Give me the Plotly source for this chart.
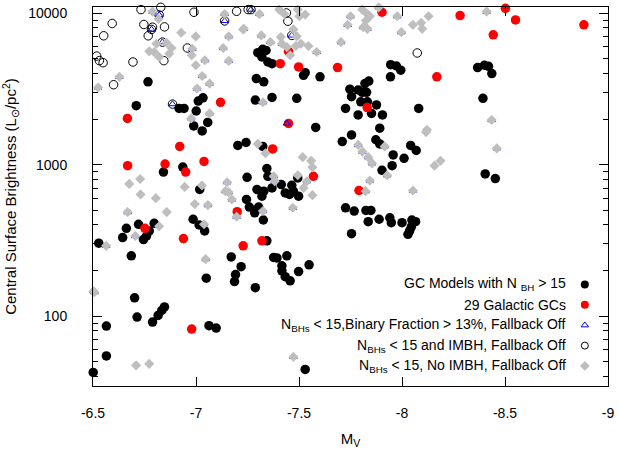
import plotly.graph_objects as go

# ---------------- data (M_V, central surface brightness in Lsun/pc^2) ----------------
bh_mv = [-6.767, -6.710, -6.918, -6.942, -7.011, -7.034, -7.001, -7.057, -6.989, -7.030, -7.300, -7.293, -7.288,
         -7.203, -7.243, -6.936, -6.842, -7.018, -7.248, -7.296, -7.245, -7.259, -7.285, -6.986, -7.015, -7.042,
         -6.721, -6.662, -6.644, -6.797, -6.773, -6.760, -6.745, -6.528, -6.686, -7.171,
         -7.219, -7.192, -7.187, -7.288, -7.050, -6.702, -6.714, -6.565, -6.789, -6.816, -6.834, -6.847, -7.063,
         -7.098, -6.565, -6.501,
         -7.324, -7.340, -7.320, -7.349, -7.369, -7.522, -7.530, -7.602, -7.329, -7.369, -7.489, -7.747, -7.787,
         -7.820, -7.839, -7.807, -7.828, -7.755, -7.800, -7.832, -7.876, -7.726, -7.787, -7.852, -7.905, -8.081,
         -7.945, -7.973, -7.994, -7.944, -7.581, -7.892,
         -7.755, -7.710, -7.873, -7.892, -8.042, -8.069, -7.957, -8.010, -7.952, -7.903, -7.324, -7.344, -7.349,
         -7.369, -7.414, -7.329, -7.320, -7.433, -7.465, -7.473, -7.498, -7.454, -7.494, -7.304, -7.327, -7.344,
         -7.377, -7.393, -7.441, -7.726, -7.768, -7.825, -7.849, -7.836, -7.889, -7.941, -7.948, -8.000, -8.048,
         -8.066, -8.045, -8.037, -8.029, -7.755,
         -7.417, -7.417, -7.433, -7.457, -7.498, -7.549, -7.530,
         -8.367, -8.400, -8.420, -8.436, -8.393, -8.404, -8.453]
bh_sb = [3520, 2450, 2350, 2350, 2630, 2760, 2260, 1900, 1800, 1670, 5480, 3700, 2670,
         1340, 1400, 964, 894, 686, 825, 686, 589, 525, 481, 436, 400, 365,
         404, 380, 330, 410, 365, 338, 320, 303, 250, 246,
         212, 188, 169, 154, 178, 132, 98.5, 86, 91.3, 101, 109, 115, 86.5,
         83.4, 54.6, 42.5,
         5770, 5680, 5140, 4760, 4640, 3890, 4050, 3800, 3520, 2780, 2740, 3150, 3110,
         3430, 3560, 3000, 3000, 2810, 2600, 2600, 2480, 2350, 2130, 2180, 2130, 2350,
         4570, 4480, 4200, 3800, 1760, 1740,
         1570, 1420, 1460, 1370, 1340, 1240, 1160, 1100, 985, 917, 1320, 942, 838,
         702, 739, 668, 619, 651, 731, 668, 619, 636, 817, 525, 431, 314,
         244, 242, 250, 519, 494, 499, 499, 420, 436, 446, 414, 414, 431,
         420, 388, 365, 347, 350,
         215, 199, 182, 171, 197, 218, 44.5,
         4370, 4530, 4460, 3990, 2740, 868, 809]

gc_mv = [-7.119, -6.667, -6.668, -6.921, -6.850, -7.039, -6.950, -6.752, -6.939, -7.200, -7.229, -6.979,
         -7.903, -7.409, -7.498, -7.687, -7.449, -8.169, -7.831, -7.449, -7.372, -7.570, -7.791, -7.320,
         -8.282, -8.502, -8.551, -8.443, -8.883]
gc_sb = [2580, 2020, 985, 1320, 1010, 1050, 894, 380, 325, 489, 291, 82.2,
         10140, 4640, 4420, 4370, 5600, 3800, 2380, 1870, 1270, 838, 675, 314,
         9640, 10770, 9030, 7190, 8370]

imbh_mv = [-6.733, -6.829, -6.593, -6.552, -6.518, -6.531, -6.549, -6.694, -6.600, -6.747, -6.768, -6.789,
           -6.847, -6.958, -6.990, -7.197, -7.253, -7.267, -6.844, -6.821, -6.784, -6.837, -7.139, -6.886,
           -7.446, -8.074, -7.465, -7.439]
imbh_sb = [10560, 10930, 8550, 7090, 5210, 4860, 4710, 4760, 3370, 8420, 7090, 8080,
           8120, 5890, 10140, 10290, 10560, 10560, 4860, 9730, 7810, 6440, 8890, 2510,
           8850, 5460, 7130, 10030]

bin_mv = [-6.789, -6.982, -7.043, -7.159, -7.132, -7.159, -7.139, -6.628, -6.525, -7.030, -7.066, -7.005,
          -7.066, -6.977, -7.058, -7.039, -6.668, -6.705, -6.564, -7.151, -7.158, -7.143, -7.174, -7.197,
          -7.047, -6.507, -6.502, -7.308, -7.232, -7.317, -7.361, -7.417, -7.586, -7.704, -7.750, -7.736,
          -7.812, -7.832, -7.887, -7.977, -7.997, -7.325, -7.538, -7.377, -7.382, -7.470, -7.325, -7.787,
          -7.808, -7.836, -7.855, -7.844, -7.823, -7.928, -7.916, -8.053, -7.473, -8.411, -8.435, -8.460,
          -6.821, -6.784, -6.837, -7.139, -6.886, -7.267, -7.465, -7.441]
bin_sb = [10240, 5820, 4890, 4840, 5890, 7020, 9880, 3800, 3230, 3850, 3430, 3180,
          2180, 2020, 541, 404, 486, 338, 291, 765, 658, 668, 589, 453,
          238, 144, 146, 9880, 7880, 7130, 6440, 6280, 5540, 6440, 9540, 8370,
          8080, 7880, 10930, 9540, 7490, 2580, 777, 838, 777, 519, 494, 1350,
          1220, 1120, 1020, 785, 668, 851, 1320, 675, 53.8, 10240, 1970, 1280,
          9730, 7810, 6440, 8890, 2510, 10560, 7130, 1870]

noimbh_mv = bin_mv[:60] + [
    -6.818, -6.928, -6.999, -6.808, -6.857, -6.881, -6.773, -6.797, -6.821, -6.870, -6.979, -6.999, -7.229,
    -6.676, -6.729, -6.731, -6.805, -6.858, -6.945, -7.029, -6.994, -6.821, -7.300,
    -6.709, -6.773,
    -7.404, -7.429, -7.494, -7.502, -7.530, -7.473, -7.489, -7.412, -7.509, -7.485, -7.441, -7.546, -7.457,
    -7.807, -7.832, -7.844, -7.825, -8.053, -8.093, -8.098, -8.129, -8.121,
    -7.337, -7.518, -7.559, -7.565, -7.494, -7.522, -7.565, -8.117, -8.158, -8.187]
noimbh_sb = bin_sb[:60] + [
    9160, 7420, 7020, 6280, 6380, 5890, 5600, 5540, 5140, 5400, 5270, 4530, 7810,
    746, 804, 636, 601, 486, 713, 728, 549, 392, 1370,
    47.3, 48.4,
    10560, 9880, 10560, 9540, 9790, 7810, 7020, 6950, 6280, 6070, 5970, 6070, 5270,
    10560, 9880, 9540, 8940, 8370, 8630, 7880, 9540, 1700,
    1190, 1120, 1060, 960, 851, 702, 629, 1640, 985, 1060]

x_ticks = [-6.5, -7, -7.5, -8, -8.5, -9]
x_ticklabels = ["-6.5", "-7", "-7.5", "-8", "-8.5", "-9"]
y_ticks = [100, 1000, 10000]
y_ticklabels = ["100", "1000", "10000"]

legend_labels = [
    "GC Models with N <sub>BH</sub> &gt; 15",
    "29 Galactic GCs",
    "N<sub>BHs</sub> &lt; 15,Binary Fraction &gt; 13%, Fallback Off",
    "N<sub>BHs</sub> &lt; 15 and IMBH, Fallback Off",
    "N<sub>BHs</sub> &lt; 15, No IMBH, Fallback Off",
]

# ---------------- styles ----------------
FONT = "Liberation Sans, Arial, Helvetica, sans-serif"
GRAY = "#bebebe"
styles = [
    dict(symbol="circle", size=9.5, color="black", line=dict(width=0)),
    dict(symbol="circle", size=9.5, color="#ff0000", line=dict(width=0)),
    dict(symbol="triangle-up-open", size=6.5, color="#0000ff", line=dict(width=1, color="#0000ff")),
    dict(symbol="circle-open", size=8.5, color="black", line=dict(width=1, color="black")),
    dict(symbol="diamond", size=7.8, color=GRAY, line=dict(width=0)),
]
series = [(bh_mv, bh_sb), (gc_mv, gc_sb), (bin_mv, bin_sb), (imbh_mv, imbh_sb), (noimbh_mv, noimbh_sb)]

fig = go.Figure()
for (xs, ys), st in zip(series, styles):
    fig.add_trace(go.Scatter(x=xs, y=ys, mode="markers", marker=st, cliponaxis=False,
                             showlegend=False, hoverinfo="skip"))

# ---------------- custom legend (text right-aligned, symbol on the right) ----------------
leg_y0, leg_dy = 0.268, 0.0538
leg_x_sym, leg_x_txt = 0.955, 0.923
leg_styles = [
    dict(symbol="circle", size=8, color="black"),
    dict(symbol="circle", size=8, color="#ff0000"),
    dict(symbol="triangle-up-open", size=6.5, color="#0000ff", line=dict(width=1, color="#0000ff")),
    dict(symbol="circle-open", size=7, color="black", line=dict(width=1, color="black")),
    dict(symbol="diamond", size=7.5, color=GRAY),
]
for i, (lab, st) in enumerate(zip(legend_labels, leg_styles)):
    yy = leg_y0 - i * leg_dy
    fig.add_trace(go.Scatter(x=[leg_x_sym], y=[yy], xaxis="x2", yaxis="y2", mode="markers",
                             marker=st, showlegend=False, hoverinfo="skip", cliponaxis=False))
    fig.add_annotation(x=leg_x_txt, y=yy, xref="paper", yref="paper", text=lab, showarrow=False,
                       xanchor="right", yanchor="middle", font=dict(family=FONT, size=14, color="black"))

axis_common = dict(showline=True, linecolor="black", linewidth=1, mirror="ticks", ticks="inside",
                   tickcolor="black", tickwidth=1, showgrid=False, zeroline=False,
                   tickfont=dict(family=FONT, size=14, color="black"))

minor_y = [k * 10 ** e for e in (1, 2, 3) for k in range(2, 10) if 35 <= k * 10 ** e <= 11000]
y_range = [1.5387, 4.0407]

fig.update_layout(
    width=619, height=452, autosize=False,
    margin=dict(l=93, r=8, t=5, b=66),
    paper_bgcolor="white", plot_bgcolor="white",
    font=dict(family=FONT, size=14, color="black"),
    xaxis=dict(**axis_common, range=[-6.5, -9], tickmode="array", tickvals=x_ticks, ticktext=x_ticklabels,
               ticklen=9, ticklabelstandoff=14,
               title=dict(text="M<sub>V</sub>", font=dict(family=FONT, size=15), standoff=13)),
    yaxis=dict(**axis_common, type="log", range=y_range, tickmode="array", tickvals=y_ticks,
               ticktext=y_ticklabels, ticklen=9, ticklabelstandoff=22,
               minor=dict(ticks="inside", ticklen=5, tickcolor="black", tickmode="array", tickvals=minor_y,
                          showgrid=False),
               title=dict(text="Central Surface Brightness (L<sub>⊙</sub>/pc<sup>2</sup>)",
                          font=dict(family=FONT, size=15), standoff=12)),
    yaxis3=dict(overlaying="y", anchor="x", side="right", type="log", range=y_range, showline=False,
                ticks="inside", ticklen=9, tickcolor="black", tickmode="array", tickvals=y_ticks,
                showticklabels=False, showgrid=False, zeroline=False,
                minor=dict(ticks="inside", ticklen=5, tickcolor="black", tickmode="array", tickvals=minor_y,
                           showgrid=False)),
    xaxis2=dict(overlaying="x", anchor="y2", range=[0, 1], visible=False),
    yaxis2=dict(overlaying="y", anchor="x2", range=[0, 1], visible=False),
)

fig.write_html("out.html")
